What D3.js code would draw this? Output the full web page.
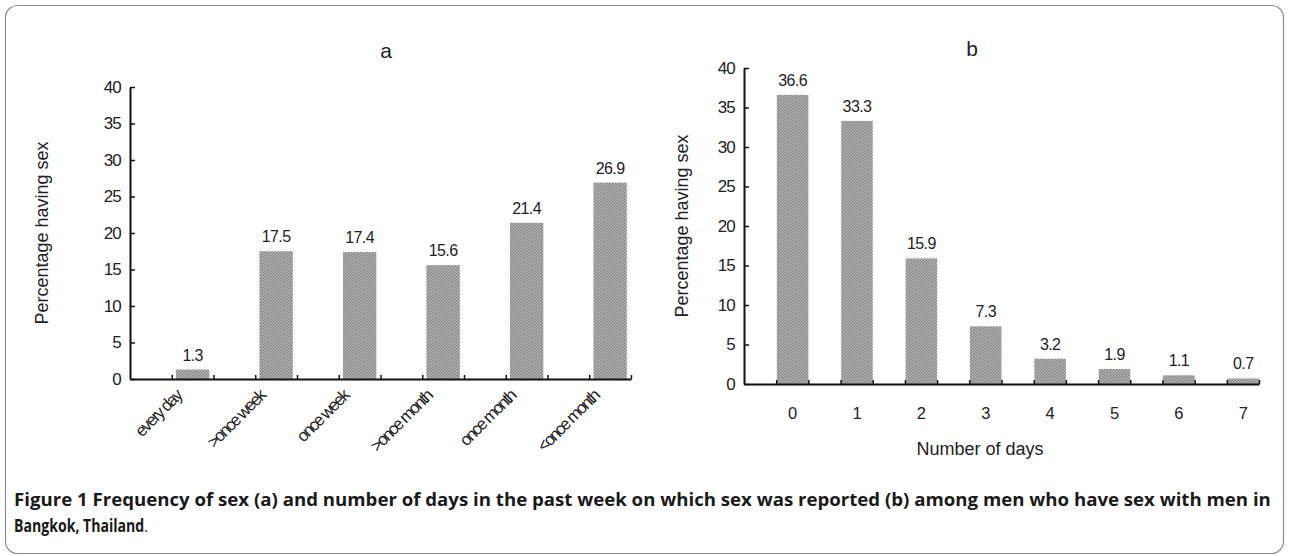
<!DOCTYPE html>
<html>
<head>
<meta charset="utf-8">
<script src="https://cdn.jsdelivr.net/npm/d3@7"></script>
<style>
  body { margin: 0; background: #fff; }
  svg { display: block; }
  .tick text { font-family: "Liberation Sans", Arial, sans-serif; fill: #222; }
</style>
</head>
<body>
<div class="canvas"></div>
<script>
// data
const freqCats = ["every day", ">once week", "once week", ">once month", "once month", "<once month"];
const freqVals = [1.3, 17.5, 17.4, 15.6, 21.4, 26.9];
const dayCats = ["0", "1", "2", "3", "4", "5", "6", "7"];
const dayVals = [36.6, 33.3, 15.9, 7.3, 3.2, 1.9, 1.1, 0.7];
const yTicks = [0, 5, 10, 15, 20, 25, 30, 35, 40];

const W = 1289, H = 556;

const svg = d3.select('.canvas')
    .append('svg')
    .attr('width', W)
    .attr('height', H);

// dotted texture for the bars
const defs = svg.append('defs');
const pat = defs.append('pattern')
    .attr('id', 'dots')
    .attr('width', 3).attr('height', 3)
    .attr('patternUnits', 'userSpaceOnUse');
pat.append('rect').attr('width', 3).attr('height', 3).attr('fill', '#bcbcbc');
pat.append('rect').attr('x', 0).attr('y', 0).attr('width', 1.5).attr('height', 1.5).attr('fill', '#808080');
pat.append('rect').attr('x', 1.5).attr('y', 1.5).attr('width', 1.5).attr('height', 1.5).attr('fill', '#808080');

// outer frame
svg.append('rect')
    .attr('x', 5.5).attr('y', 5.5)
    .attr('width', W - 11).attr('height', H - 8)
    .attr('rx', 12)
    .attr('fill', 'none')
    .attr('stroke', '#8c8c8c')
    .attr('stroke-width', 1.2);

// draws one bar panel
const panel = (opt) => {
    const g = svg.append('g');

    const x = d3.scaleBand().domain(opt.cats).range([opt.x0, opt.x1]);
    const y = d3.scaleLinear().domain([0, 40]).range([opt.yBottom, opt.yTop]);
    const bw = x.bandwidth();

    // bars
    g.selectAll('rect.bar')
        .data(opt.vals)
        .enter().append('rect')
        .attr('class', 'bar')
        .attr('x', (d, i) => x(opt.cats[i]) + bw * opt.barOff)
        .attr('width', bw * opt.barW)
        .attr('y', d => y(d))
        .attr('height', d => y(0) - y(d))
        .attr('fill', 'url(#dots)');

    // value labels
    g.selectAll('text.val')
        .data(opt.vals)
        .enter().append('text')
        .attr('class', 'val')
        .attr('x', (d, i) => x(opt.cats[i]) + bw * (opt.barOff + opt.barW / 2))
        .attr('y', d => y(d) - 9)
        .attr('text-anchor', 'middle')
        .style('font-family', '"Liberation Sans", Arial, sans-serif')
        .style('font-size', '16px')
        .style('letter-spacing', '-0.6px')
        .attr('fill', '#222')
        .text(d => d.toFixed(1));

    // y axis
    const yAxis = d3.axisLeft(y)
        .tickValues(yTicks)
        .tickSizeInner(-5)
        .tickSizeOuter(0)
        .tickPadding(9);
    const ya = g.append('g')
        .attr('transform', `translate(${opt.x0},0)`)
        .call(yAxis);
    ya.select('.domain').attr('stroke', '#111').attr('stroke-width', 2);
    ya.selectAll('.tick line').attr('stroke', '#111').attr('stroke-width', 1.5);
    ya.selectAll('.tick text').style('font-size', '17px').style('letter-spacing', '-0.8px');

    // x axis: ticks every half category
    const halves = d3.range(0, opt.cats.length * 2 + 1);
    const xh = d3.scaleLinear().domain([0, opt.cats.length * 2]).range([opt.x0, opt.x1]);
    const xAxis = d3.axisBottom(xh)
        .tickValues(halves.slice(1))
        .tickSizeInner(opt.tickIn)
        .tickSizeOuter(0)
        .tickFormat('');
    const xa = g.append('g')
        .attr('transform', `translate(0,${opt.yBottom})`)
        .call(xAxis);
    xa.select('.domain').attr('stroke', '#111').attr('stroke-width', 2.2);
    xa.selectAll('.tick line').attr('stroke', '#111').attr('stroke-width', 1.5);

    // title
    g.append('text')
        .attr('x', opt.titleX).attr('y', opt.titleY)
        .attr('text-anchor', 'middle')
        .style('font-family', '"Liberation Sans", Arial, sans-serif')
        .style('font-size', '21px')
        .attr('fill', '#222')
        .text(opt.title);

    // y title
    g.append('text')
        .attr('transform', `translate(${opt.yLabelX},${(opt.yTop + opt.yBottom) / 2}) rotate(-90)`)
        .attr('text-anchor', 'middle')
        .style('font-family', '"Liberation Sans", Arial, sans-serif')
        .style('font-size', '18px')
        .attr('fill', '#222')
        .text('Percentage having sex');

    return { g, x, y, bw };
};

// panel a
const pa = panel({
    cats: freqCats, vals: freqVals,
    x0: 130, x1: 631, yTop: 87, yBottom: 379,
    barOff: 0.55, barW: 0.4, tickIn: -4,
    title: 'a', titleX: 386, titleY: 58, yLabelX: 48
});

// rotated category labels for a
pa.g.selectAll('text.cat')
    .data(freqCats)
    .enter().append('text')
    .attr('class', 'cat')
    .attr('transform', d => `translate(${pa.x(d) + pa.bw * 0.75 - 10},${397}) rotate(-45)`)
    .attr('text-anchor', 'end')
    .style('font-family', '"Liberation Sans", Arial, sans-serif')
    .style('font-size', '17px')
    .style('letter-spacing', '-1.8px')
    .attr('fill', '#222')
    .text(d => d);

// panel b
const pb = panel({
    cats: dayCats, vals: dayVals,
    x0: 744, x1: 1259, yTop: 68, yBottom: 384,
    barOff: 0.51, barW: 0.49, tickIn: -4,
    title: 'b', titleX: 972, titleY: 56, yLabelX: 688
});

pb.g.selectAll('text.cat')
    .data(dayCats)
    .enter().append('text')
    .attr('class', 'cat')
    .attr('x', d => pb.x(d) + pb.bw * 0.755)
    .attr('y', 419)
    .attr('text-anchor', 'middle')
    .style('font-family', '"Liberation Sans", Arial, sans-serif')
    .style('font-size', '16.5px')
    .attr('fill', '#222')
    .text(d => d);

pb.g.append('text')
    .attr('x', 980).attr('y', 455)
    .attr('text-anchor', 'middle')
    .style('font-family', '"Liberation Sans", Arial, sans-serif')
    .style('font-size', '18px')
    .attr('fill', '#222')
    .text('Number of days');

// caption, each line squeezed to the condensed width of the original
const capLines = [
    { x: 14, y: 506, w: 1258, parts: [["Figure 1", 700], [" Frequency of sex (a) and number of days in the past week on which sex was reported (b) among men who have sex with men in", 700]] },
    { x: 14, y: 532, w: 134, parts: [["Bangkok, Thailand", 700], [".", 400]] }
];
capLines.forEach(line => {
    const t = svg.append('text')
        .attr('x', line.x).attr('y', line.y)
        .style('font-family', '"Open Sans", "Noto Sans", sans-serif')
        .style('font-size', '17px')
        .attr('fill', '#1a1a1a');
    line.parts.forEach(p => {
        t.append('tspan').style('font-weight', p[1]).text(p[0]);
    });
    const s = line.w / t.node().getComputedTextLength();
    t.attr('x', 0).attr('transform', `translate(${line.x},0) scale(${s},1)`);
});
</script>
</body>
</html>
